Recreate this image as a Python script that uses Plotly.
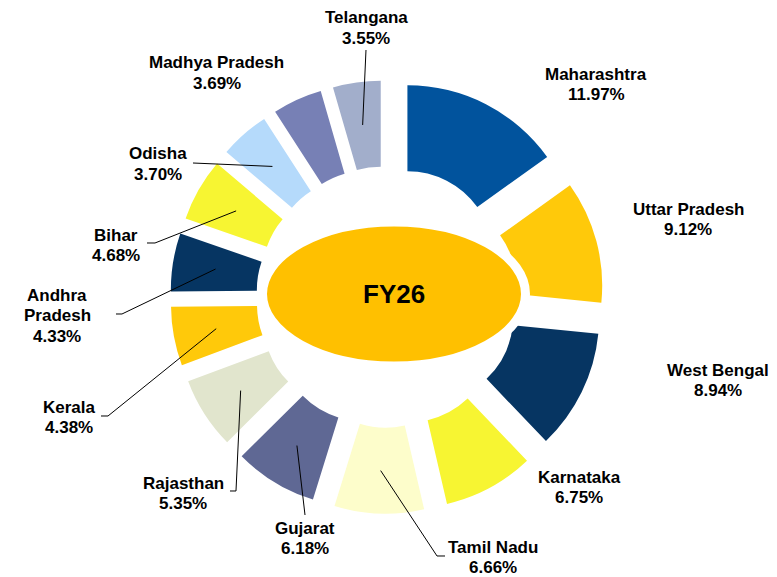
import math
import plotly.graph_objects as go

# ---------------- data ----------------
states = ["Maharashtra", "Uttar Pradesh", "West Bengal", "Karnataka", "Tamil Nadu",
          "Gujarat", "Rajasthan", "Kerala", "Andhra Pradesh", "Bihar", "Odisha",
          "Madhya Pradesh", "Telangana"]
shares = [11.97, 9.12, 8.94, 6.75, 6.66, 6.18, 5.35, 4.38, 4.33, 4.68, 3.70, 3.69, 3.55]
colors = ["#01539D", "#FFC90A", "#063562", "#F7F532", "#FDFDCB", "#5F6894", "#E1E5CD",
          "#FFC90A", "#063562", "#F7F532", "#B5DAFB", "#7780B5", "#A2AECB"]
name_lines = [["Maharashtra"], ["Uttar Pradesh"], ["West Bengal"], ["Karnataka"], ["Tamil Nadu"],
              ["Gujarat"], ["Rajasthan"], ["Kerala"], ["Andhra", "Pradesh"], ["Bihar"], ["Odisha"],
              ["Madhya Pradesh"], ["Telangana"]]
center_label = "FY26"

# ---------------- layout constants (pixels) ----------------
W, H = 777, 577
CX, CY = 387, 297          # pie centre
R_OUT = 172                # outer radius of ring
PULL = 0.26                # explosion fraction
HOLE = 0.5
FONT = "Liberation Sans, Arial, sans-serif"
FS = 17

# label positions: x centre, y of first line (px), line step
label_pos = [(596, 74), (688, 209), (718, 370), (579, 477), (493, 547), (305, 528),
             (183, 483), (69, 407), (57, 295), (116, 235), (158, 154), (217, 63), (366, 18)]
LINE_STEP = 20.5
# leader line label-side points (None = no leader line)
leader_start = [None, None, None, None, [(445, 556), (437, 556)], [(305, 515)],
                [(230, 491), (236, 491)], [(101, 416), (108, 416)], [(116, 314), (122, 314)],
                [(147, 243), (155, 243)], [(193, 163)], None, [(366, 50)]]

def px(x):
    return x / W

def py(y):
    return 1 - y / H

ext = R_OUT * (1 + PULL)
dom_x = [px(CX - ext), px(CX + ext)]
dom_y = [py(CY + ext), py(CY - ext)]

fig = go.Figure(go.Pie(
    labels=states, values=shares, sort=False, direction="clockwise", rotation=0,
    hole=HOLE, pull=[PULL] * len(shares),
    marker=dict(colors=colors, line=dict(width=0)),
    textinfo="none", hoverinfo="label+percent", showlegend=False,
    domain=dict(x=dom_x, y=dom_y),
))

# anchor points inside each segment, derived from the data
total = sum(shares)
anchors = []
cum = 0.0
r_anchor = PULL * R_OUT + (HOLE * R_OUT + R_OUT) / 2
for v in shares:
    mid = (cum + v / 2) / total * 2 * math.pi
    cum += v
    anchors.append((CX + r_anchor * math.sin(mid), CY - r_anchor * math.cos(mid)))

annotations = []
shapes = []
for i, (lines, v) in enumerate(zip(name_lines, shares)):
    lx, ly = label_pos[i]
    all_lines = lines + [f"{v:.2f}%"]
    for k, t in enumerate(all_lines):
        annotations.append(dict(
            x=px(lx), y=py(ly + k * LINE_STEP), xref="paper", yref="paper",
            text=f"<b>{t}</b>", showarrow=False, xanchor="center", yanchor="middle",
            font=dict(family=FONT, size=FS, color="#000000")))
    if leader_start[i] is not None:
        pts = leader_start[i] + [anchors[i]]
        path = "M " + " L ".join(f"{px(x):.5f},{py(y):.5f}" for x, y in pts)
        shapes.append(dict(type="path", path=path, xref="paper", yref="paper",
                           line=dict(color="#000000", width=1), layer="above"))

# centre ellipse with white halo
EX, EY, EA, EB = 394, 294, 131.5, 72
shapes.append(dict(type="circle", xref="paper", yref="paper",
                   x0=px(EX - EA), x1=px(EX + EA), y0=py(EY + EB), y1=py(EY - EB),
                   fillcolor="#FFC000", line=dict(color="#FFFFFF", width=9), layer="above"))
annotations.append(dict(x=px(EX), y=py(EY), xref="paper", yref="paper",
                        text=f"<b>{center_label}</b>", showarrow=False,
                        font=dict(family=FONT, size=26, color="#000000")))

fig.update_layout(
    width=W, height=H, margin=dict(l=0, r=0, t=0, b=0),
    paper_bgcolor="white", plot_bgcolor="white",
    annotations=annotations, shapes=shapes,
)

fig.write_html("out.html", config={"displayModeBar": False},
               post_script="document.body.style.margin='0';document.body.style.overflow='hidden';")
